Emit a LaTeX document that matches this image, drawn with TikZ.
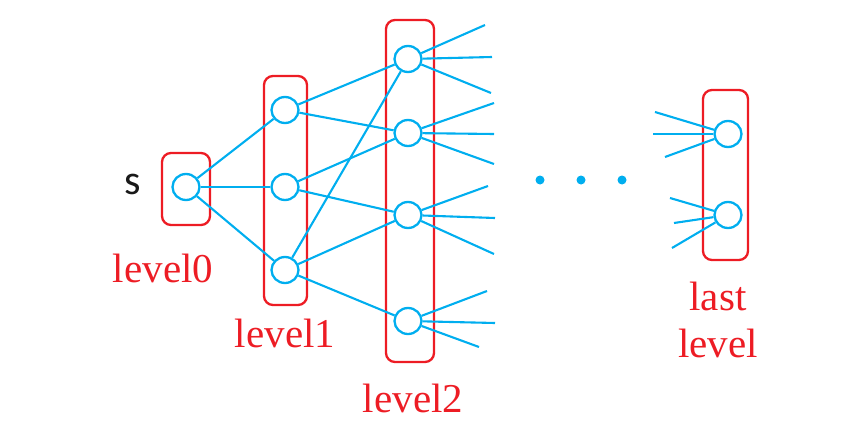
\documentclass[tikz,border=0pt]{standalone}
\usepackage{fontspec}
\setmainfont{Liberation Serif}
\newfontfamily\sansf{Carlito}
\usetikzlibrary{shapes.geometric,fit}
\definecolor{cblue}{RGB}{0,174,239}
\definecolor{cred}{RGB}{237,28,36}
\begin{document}
\begin{tikzpicture}[x=1pt,y=-1pt,
  vert/.style={ellipse,draw=cblue,line width=2.3pt,minimum width=27pt,minimum height=26pt,inner sep=0pt},
  edge/.style={draw=cblue,line width=2.1pt},
  grp/.style={draw=cred,line width=2.3pt,rounded corners=9pt,inner sep=0pt},
  lab/.style={text=cred,font=\fontsize{41}{44}\selectfont,inner sep=0pt},
  dotn/.style={circle,fill=cblue,minimum size=9pt,inner sep=0pt}]
\useasboundingbox (0,0) rectangle (845,433);
% vertices
\node[vert] (s) at (186,187) {};
\node[vert] (a1) at (285,110) {};
\node[vert] (a2) at (285,187) {};
\node[vert] (a3) at (285,270) {};
\node[vert] (b1) at (408,59) {};
\node[vert] (b2) at (408,133) {};
\node[vert] (b3) at (408,215) {};
\node[vert] (b4) at (408,321) {};
\node[vert] (c1) at (728,134) {};
\node[vert] (c2) at (728,215) {};
% group boxes
\coordinate (g0a) at (162,153); \coordinate (g0b) at (210,225);
\coordinate (g1a) at (264,76);  \coordinate (g1b) at (307,305);
\coordinate (g2a) at (386,20);  \coordinate (g2b) at (434,362);
\coordinate (g3a) at (703,90);  \coordinate (g3b) at (748,260);
\node[grp,fit=(g0a)(g0b)] (box0) {};
\node[grp,fit=(g1a)(g1b)] (box1) {};
\node[grp,fit=(g2a)(g2b)] (box2) {};
\node[grp,fit=(g3a)(g3b)] (box3) {};
% labels
\node[text=black!90,font=\sansf\fontsize{42}{44}\selectfont,inner sep=0pt] (slab) at (133,184) {s};
\node[lab] (l0) at (163,268) {level0};
\node[lab] (l1) at (285,333) {level1};
\node[lab] (l2) at (413,398) {level2};
\node[lab] (l3a) at (718,296) {last};
\node[lab] (l3b) at (718,343) {level};
% dots
\node[dotn] (d1) at (540,180) {};
\node[dotn] (d2) at (581,180) {};
\node[dotn] (d3) at (622,180) {};
% edges
\draw[edge] (s) -- (a1); \draw[edge] (s) -- (a2); \draw[edge] (s) -- (a3);
\draw[edge] (a1) -- (b1); \draw[edge] (a1) -- (b2);
\draw[edge] (a2) -- (b2); \draw[edge] (a2) -- (b3);
\draw[edge] (a3) -- (b1); \draw[edge] (a3) -- (b3); \draw[edge] (a3) -- (b4);
% stubs
\coordinate (e11) at (485,25); \coordinate (e12) at (492,57); \coordinate (e13) at (491,93);
\coordinate (e21) at (494,103); \coordinate (e22) at (494,134); \coordinate (e23) at (494,164);
\coordinate (e31) at (488,186); \coordinate (e32) at (495,218); \coordinate (e33) at (494,254);
\coordinate (e41) at (487,291); \coordinate (e42) at (495,323); \coordinate (e43) at (479,347);
\draw[edge] (b1) -- (e11); \draw[edge] (b1) -- (e12); \draw[edge] (b1) -- (e13);
\draw[edge] (b2) -- (e21); \draw[edge] (b2) -- (e22); \draw[edge] (b2) -- (e23);
\draw[edge] (b3) -- (e31); \draw[edge] (b3) -- (e32); \draw[edge] (b3) -- (e33);
\draw[edge] (b4) -- (e41); \draw[edge] (b4) -- (e42); \draw[edge] (b4) -- (e43);
\coordinate (f11) at (655,112); \coordinate (f12) at (653,134); \coordinate (f13) at (665,157);
\coordinate (f21) at (670,198); \coordinate (f22) at (674,223); \coordinate (f23) at (672,248);
\draw[edge] (f11) -- (c1); \draw[edge] (f12) -- (c1); \draw[edge] (f13) -- (c1);
\draw[edge] (f21) -- (c2); \draw[edge] (f22) -- (c2); \draw[edge] (f23) -- (c2);
\end{tikzpicture}
\end{document}
